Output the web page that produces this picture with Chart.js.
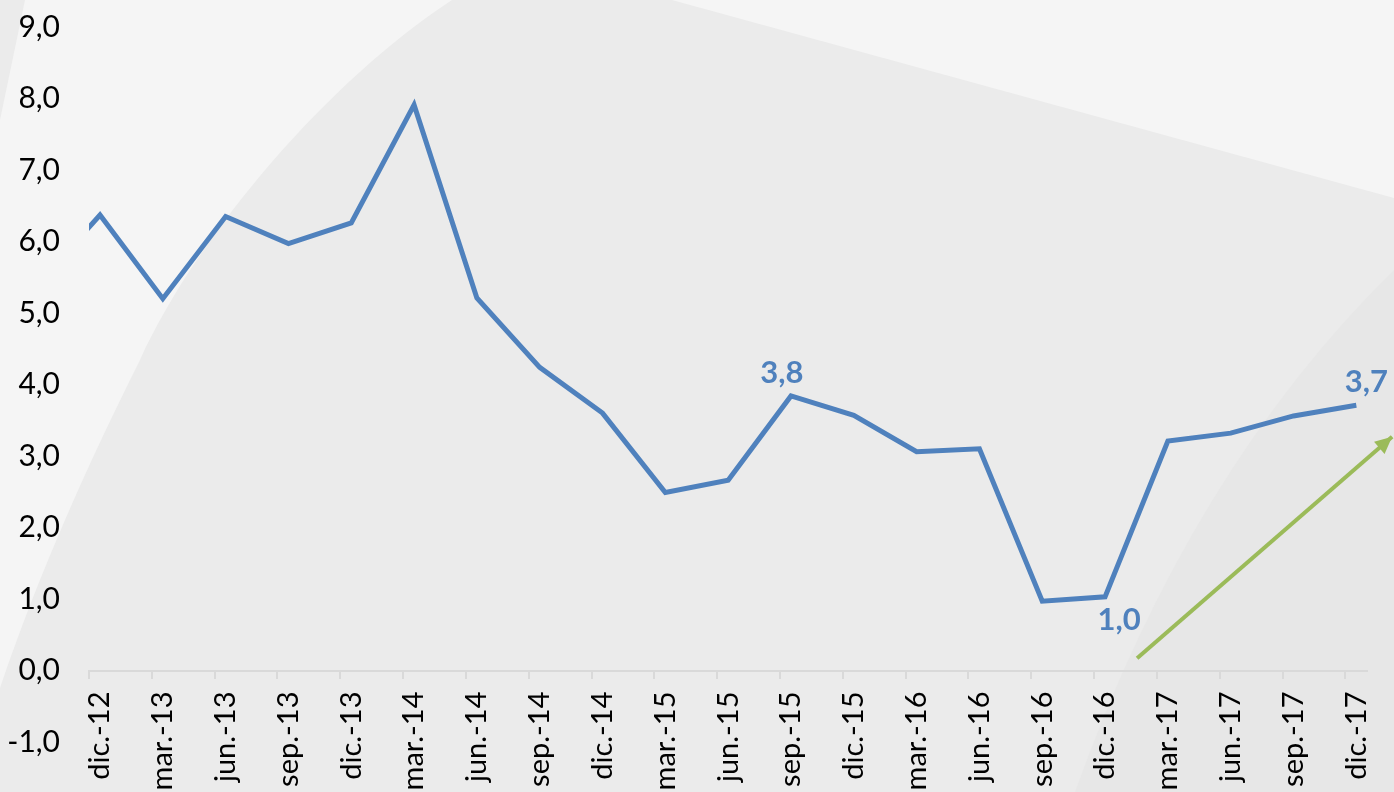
<!DOCTYPE html>
<html>
<head>
<meta charset="utf-8">
<script src="https://cdn.jsdelivr.net/npm/chart.js@4.4.1/dist/chart.umd.min.js"></script>
<style>
	html, body { margin: 0; padding: 0; background: #ebebeb; }
	#wrap { width: 1394px; height: 792px; }
</style>
</head>
<body>
<div id="wrap"><canvas id="inflChart" width="1394" height="792"></canvas></div>
<script>
// quarterly values, first one only shows as the clipped stub at the left edge
const quarters = [
	'sep.-12', 'dic.-12', 'mar.-13', 'jun.-13', 'sep.-13', 'dic.-13', 'mar.-14',
	'jun.-14', 'sep.-14', 'dic.-14', 'mar.-15', 'jun.-15', 'sep.-15', 'dic.-15',
	'mar.-16', 'jun.-16', 'sep.-16', 'dic.-16', 'mar.-17', 'jun.-17', 'sep.-17', 'dic.-17'
];
const values = [
	5.4, 6.37, 5.20, 6.35, 5.97, 6.26, 7.91,
	5.21, 4.24, 3.60, 2.49, 2.66, 3.84, 3.57,
	3.06, 3.10, 0.97, 1.03, 3.21, 3.32, 3.56, 3.71
];
const tickLabels = quarters.slice(1);
const yTicks = [-1, 0, 1, 2, 3, 4, 5, 6, 7, 8, 9];
const notedQuarters = ['sep.-15', 'dic.-16', 'dic.-17'];
// green trend arrow, x in quarter index units
const trendX = [17.51, 21.57];
const trendY = [0.17, 3.27];

const TICK_SHIFT = 0.175;

function fmt(v) {
	return v.toFixed(1).replace('.', ',');
}

const backdrop = {
	id: 'backdrop',
	beforeDraw(chart) {
		const c = chart.ctx;
		const w = chart.width;
		const h = chart.height;
		c.save();
		c.fillStyle = '#ebebeb';
		c.fillRect(0, 0, w, h);
		c.fillStyle = '#f5f5f5';
		c.beginPath();
		c.moveTo(25, 0);
		c.lineTo(452, 0);
		c.bezierCurveTo(330, 80, 200, 230, 140, 360);
		c.bezierCurveTo(90, 460, 40, 570, 0, 688);
		c.lineTo(0, 120);
		c.closePath();
		c.fill();
		c.beginPath();
		c.moveTo(672, 0);
		c.lineTo(w, 0);
		c.lineTo(w, 198);
		c.closePath();
		c.fill();
		c.fillStyle = '#e7e7e7';
		c.beginPath();
		c.moveTo(1075, h);
		c.quadraticCurveTo(1190, 470, w, 270);
		c.lineTo(w, h);
		c.closePath();
		c.fill();
		c.restore();
	}
};

const pointNotes = {
	id: 'pointNotes',
	afterDatasetsDraw(chart) {
		const c = chart.ctx;
		const meta = chart.getDatasetMeta(0);
		const shift = {'sep.-15': [-9, -23], 'dic.-16': [14, 23], 'dic.-17': [10, -23]};
		c.save();
		c.font = 'bold 31px Lato';
		c.fillStyle = '#4f81bd';
		c.textAlign = 'center';
		c.textBaseline = 'middle';
		notedQuarters.forEach((q) => {
			const i = quarters.indexOf(q);
			const p = meta.data[i];
			c.fillText(fmt(values[i]), p.x + shift[q][0], p.y + shift[q][1]);
		});

		// arrow head on the trend line
		const arrow = chart.getDatasetMeta(1).data;
		const a = arrow[0];
		const b = arrow[arrow.length - 1];
		const ang = Math.atan2(b.y - a.y, b.x - a.x);
		const len = 17;
		const half = 8;
		c.fillStyle = '#9bbb59';
		c.beginPath();
		c.moveTo(b.x, b.y);
		c.lineTo(b.x - len * Math.cos(ang) + half * Math.sin(ang), b.y - len * Math.sin(ang) - half * Math.cos(ang));
		c.lineTo(b.x - len * Math.cos(ang) - half * Math.sin(ang), b.y - len * Math.sin(ang) + half * Math.cos(ang));
		c.closePath();
		c.fill();
		c.restore();
	}
};

const ctx = document.getElementById('inflChart');
const config = {
	type: 'line',
	data: {
		datasets: [
			{
				label: 'Inflación',
				data: values.map((v, i) => ({x: i, y: v})),
				borderColor: '#4f81bd',
				borderWidth: 5,
				pointRadius: 0,
				tension: 0,
				clip: 0
			},
			{
				label: 'Tendencia',
				data: trendX.map((x, i) => ({x: x, y: trendY[i]})),
				borderColor: '#9bbb59',
				borderWidth: 4,
				pointRadius: 0,
				clip: false
			}
		]
	},
	options: {
		responsive: false,
		animation: false,
		layout: {
			padding: {top: 27, right: 27, bottom: 50, left: 0}
		},
		plugins: {
			legend: {display: false},
			tooltip: {enabled: false}
		},
		scales: {
			x: {
				type: 'linear',
				position: {y: 0},
				min: 1 - TICK_SHIFT,
				max: 21.17,
				afterBuildTicks: (scale) => {
					scale.ticks = tickLabels.map((q, i) => ({value: i + 1 - TICK_SHIFT}));
				},
				afterFit: (scale) => {
					scale.paddingLeft = 0;
					scale.paddingRight = 0;
				},
				ticks: {
					autoSkip: false,
					minRotation: 90,
					maxRotation: 90,
					labelOffset: 11,
					padding: 14,
					color: '#000',
					font: {family: 'Lato', size: 29},
					callback: (v, idx) => tickLabels[idx]
				},
				grid: {
					drawOnChartArea: false,
					drawTicks: true,
					tickLength: 7,
					color: '#d9d9d9',
					lineWidth: 2
				},
				border: {display: true, color: '#d9d9d9', width: 2}
			},
			y: {
				min: -1,
				max: 9,
				afterBuildTicks: (scale) => {
					scale.ticks = yTicks.map((v) => ({value: v}));
				},
				afterFit: (scale) => {
					scale.width = 89;
					scale.paddingTop = 0;
					scale.paddingBottom = 0;
				},
				ticks: {
					padding: 29,
					color: '#000',
					font: {family: 'Lato', size: 30},
					callback: (v) => fmt(v)
				},
				grid: {display: false, drawTicks: false},
				border: {display: false}
			}
		}
	},
	plugins: [backdrop, pointNotes]
};
new Chart(ctx, config);
</script>
</body>
</html>
